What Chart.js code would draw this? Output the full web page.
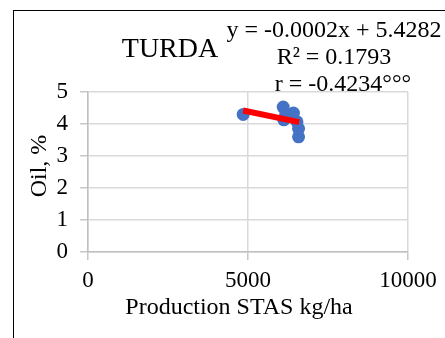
<!DOCTYPE html>
<html>
<head>
<meta charset="utf-8">
<script src="https://cdn.jsdelivr.net/npm/chart.js@4/dist/chart.umd.min.js"></script>
<style>
  html, body { margin: 0; padding: 0; background: #fff; }
  #wrap { position: relative; width: 445px; height: 338px; overflow: hidden; }
  #frame { position: absolute; left: 13px; top: 10px; width: 440px; height: 340px;
           border-top: 1.5px solid #000; border-left: 1.5px solid #000; pointer-events: none; }
  canvas { position: absolute; left: 0; top: 0; }
</style>
</head>
<body>
<div id="wrap">
  <canvas id="c" width="445" height="338"></canvas>
  <div id="frame"></div>
</div>
<script>
// ---- data ----
const chartTitle = "TURDA";
const xAxisTitle = "Production STAS kg/ha";
const yAxisTitle = "Oil, %";
const equationLines = ["y = -0.0002x + 5.4282", "R² = 0.1793", "r = -0.4234°°°"];

const productionX = [4850, 6100, 6120, 6180, 6420, 6530, 6580, 6580];
const oilY        = [4.30, 4.53, 4.13, 4.30, 4.34, 4.07, 3.86, 3.60];

const trendX = [4850, 6600];
const trendY = [4.42, 4.06];

const xTicks = [0, 5000, 10000];
const yTicks = [0, 1, 2, 3, 4, 5];

const FONT = "'Liberation Serif', 'Times New Roman', serif";

const points = productionX.map((x, i) => ({ x: x, y: oilY[i] }));
const trend = trendX.map((x, i) => ({ x: x, y: trendY[i] }));

const textPlugin = {
  id: 'texts',
  afterDraw(chart) {
    const ctx = chart.ctx;
    ctx.save();
    ctx.fillStyle = '#000';
    ctx.textBaseline = 'alphabetic';
    ctx.textAlign = 'center';
    ctx.font = '28px ' + FONT;
    ctx.fillText(chartTitle, 170, 57);
    ctx.font = '24px ' + FONT;
    ctx.fillText(equationLines[0], 334, 37);
    ctx.fillText(equationLines[1], 334, 64);
    ctx.fillText(equationLines[2], 343, 91);
    // axis titles
    ctx.font = '24px ' + FONT;
    ctx.fillText(xAxisTitle, 239, 314);
    ctx.translate(46, 166);
    ctx.rotate(-Math.PI / 2);
    ctx.fillText(yAxisTitle, 0, 0);
    ctx.restore();
  }
};

new Chart(document.getElementById('c'), {
  type: 'scatter',
  data: {
    datasets: [
      {
        label: 'trend',
        data: trend,
        showLine: true,
        borderColor: '#ff0000',
        backgroundColor: '#ff0000',
        borderWidth: 6,
        pointRadius: 0,
        order: 0
      },
      {
        label: 'Oil',
        data: points,
        backgroundColor: '#4472c4',
        borderColor: '#4472c4',
        pointRadius: 6.5,
        pointBorderWidth: 0,
        order: 1
      }
    ]
  },
  plugins: [textPlugin],
  options: {
    responsive: false,
    animation: false,
    devicePixelRatio: 1,
    layout: { padding: { left: 0, right: 37, top: 92, bottom: 0 } },
    plugins: { legend: { display: false }, tooltip: { enabled: false }, title: { display: false } },
    scales: {
      x: {
        type: 'linear',
        min: 0, max: 10000,
        afterBuildTicks: (s) => { s.ticks = xTicks.map(v => ({ value: v })); },
        afterFit: (s) => { s.height = 86; },
        ticks: { color: '#000', font: { family: FONT, size: 23 }, padding: 7, maxRotation: 0,
                 callback: (v) => String(v) },
        grid: { color: '#d9d9d9', lineWidth: 1.5, tickLength: 8, tickColor: '#c8c8c8' },
        border: { color: '#c0c0c0', width: 1.5 }
      },
      y: {
        type: 'linear',
        min: 0, max: 5,
        afterBuildTicks: (s) => { s.ticks = yTicks.map(v => ({ value: v })); },
        afterFit: (s) => { s.width = 88; },
        ticks: { color: '#000', font: { family: FONT, size: 23 }, padding: 12,
                 callback: (v) => String(v) },
        grid: { color: '#d9d9d9', lineWidth: 1.5, tickLength: 8, tickColor: '#c8c8c8' },
        border: { color: '#c0c0c0', width: 1.5 }
      }
    }
  }
});
</script>
</body>
</html>
